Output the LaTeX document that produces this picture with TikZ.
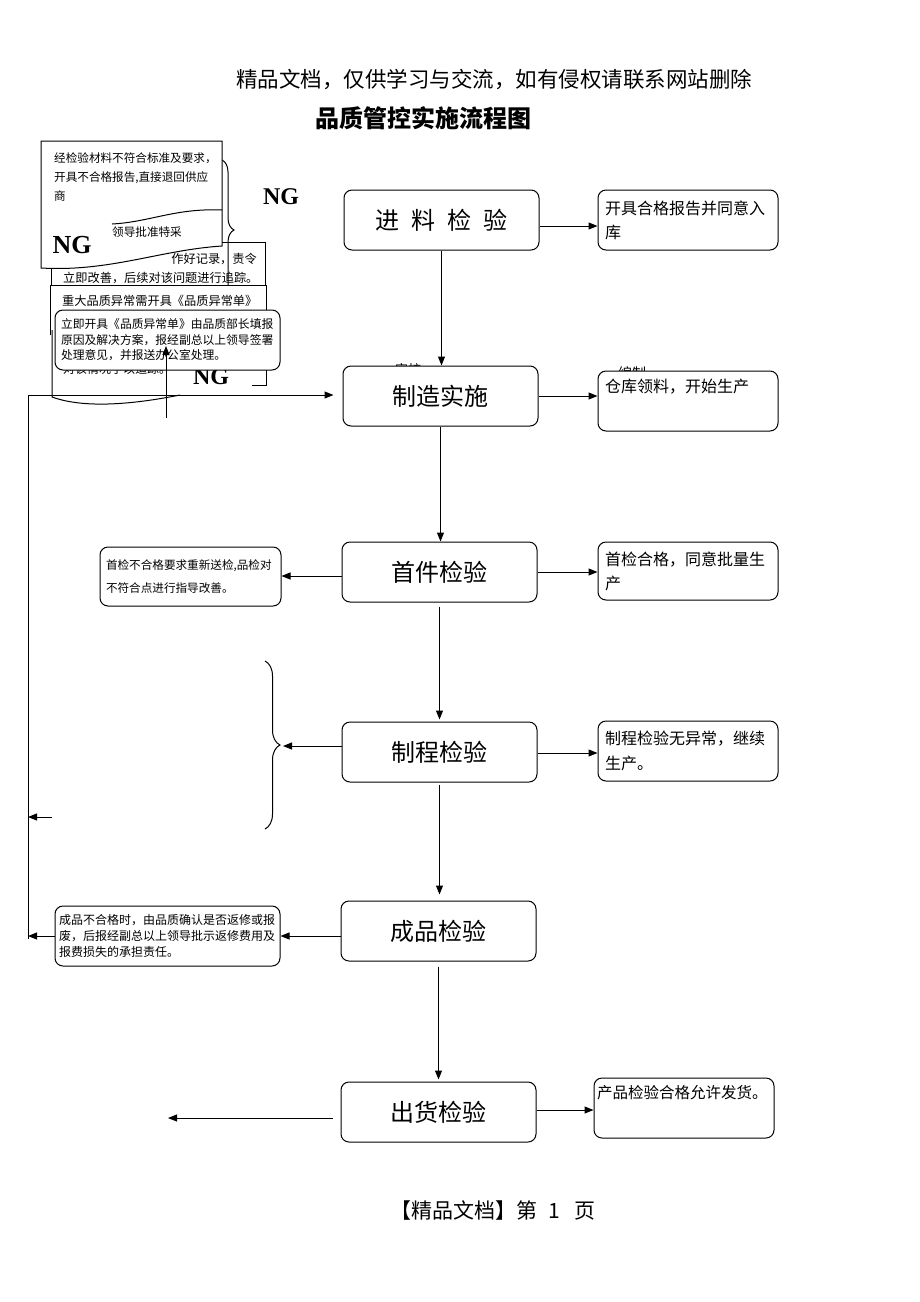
\documentclass[tikz,border=0pt]{standalone}
\usepackage{fontspec}
\setmainfont{Noto Sans CJK SC}
\newfontfamily\ngfont{Liberation Serif}
\usetikzlibrary{arrows.meta,decorations.pathreplacing,calc}
\tikzset{
  ln/.style={line width=1pt},
  arr/.style={ln, -{Triangle[length=9pt,width=7pt]}},
  mbox/.style={draw, ln, rounded corners=8pt, fill=white, minimum width=195pt, minimum height=60pt, inner sep=0pt, font=\fontsize{24}{28}\selectfont},
  rbox/.style={draw, ln, rounded corners=8pt, fill=white, minimum width=180pt, minimum height=60pt, text width=166pt, inner xsep=7pt, inner ysep=0pt, align=left, font=\fontsize{16}{24}\selectfont},
  ng/.style={inner sep=0pt, font=\ngfont\bfseries\fontsize{24}{24}\selectfont},
  txt/.style={inner sep=0pt, align=left},
}
\begin{document}
\begin{tikzpicture}[x=1pt,y=-1pt]
\useasboundingbox (0,0) rectangle (920,1302);
\fill[white] (0,0) rectangle (920,1302);

% header, title, footer
\node[txt, font=\fontsize{21.5}{22}\selectfont] (hdr) at (494,80) {精品文档，仅供学习与交流，如有侵权请联系网站删除};
\node[txt, font=\bfseries\fontsize{24}{24}\selectfont] (title) at (423,118) {品质管控实施流程图};
\node[txt, font=\fontsize{21}{21}\selectfont] (ftr) at (493,1210) {【精品文档】第\hspace{11pt}1\hspace{14pt}页};

% fragments hidden behind boxes
\node[txt, font=\fontsize{13}{13}\selectfont] (frag1) at (408,370) {审核};
\node[txt, font=\fontsize{14}{14}\selectfont] (frag2) at (632,373) {编制};

% main boxes
\node[mbox] (b1) at (441.5,220) {进\hspace{12pt}料\hspace{12pt}检\hspace{12pt}验};
\node[mbox] (b2) at (440.5,396) {制造实施};
\node[mbox] (b3) at (439.5,572) {首件检验};
\node[mbox] (b4) at (439.5,752) {制程检验};
\node[mbox] (b5) at (438.5,931) {成品检验};
\node[mbox] (b6) at (438.5,1112) {出货检验};

% right boxes
\node[rbox] (r1) at (688,220) {开具合格报告并同意入\\库};
\node[rbox] (r2) at (688,401) {仓库领料，开始生产\\\strut};
\node[rbox, minimum height=58pt] (r3) at (688,571) {首检合格，同意批量生\\产};
\node[rbox, font=\fontsize{16}{25}\selectfont] (r4) at (688,751) {制程检验无异常，继续\\生产。};
\node[rbox, text width=174pt, inner xsep=3pt, font=\fontsize{15.5}{24}\selectfont] (r5) at (684,1108) {产品检验合格允许发货。\\\strut};

% left boxes
\node[rbox, minimum width=181pt, minimum height=59pt, text width=169pt, inner xsep=6pt, font=\fontsize{11.6}{23}\selectfont] (l3) at (190.5,576.5) {首检不合格要求重新送检,品检对\\不符合点进行指导改善。};
\node[rbox, minimum width=225pt, text width=217pt, inner xsep=4pt, font=\fontsize{12}{16}\selectfont] (l5) at (167.5,936) {成品不合格时，由品质确认是否返修或报\\废，后报经副总以上领导批示返修费用及\\报费损失的承担责任。};

% vertical flow
\draw[arr] (b1.south) -- (b1.south |- b2.north);
\draw[arr] (b2.south) -- (b2.south |- b3.north);
\draw[arr] ([yshift=-4pt]b3.south) -- ([yshift=2pt]b3.south |- b4.north);
\draw[arr] ([yshift=-2pt]b4.south) -- ([yshift=6pt]b4.south |- b5.north);
\draw[arr] ([yshift=-5pt]b5.south) -- ([yshift=2pt]b5.south |- b6.north);

% right arrows
\draw[arr] ([yshift=-6pt]b1.east) -- ([yshift=-6pt]b1.east -| r1.west);
\draw[arr] (b2.east) -- (b2.east -| r2.west);
\draw[arr] (b3.east) -- (b3.east -| r3.west);
\draw[arr] ([yshift=-1pt]b4.east) -- ([yshift=-1pt]b4.east -| r4.west);
\draw[arr] ([yshift=2pt]b6.east) -- ([yshift=2pt]b6.east -| r5.west);

% left arrows
\draw[arr] ([yshift=-4pt]b3.west) -- ([yshift=-4pt]b3.west -| l3.east);
\draw[ln, decorate, decoration={brace, amplitude=15pt}] (265,661) -- (265,829);
\coordinate (bt) at (283,746);
\draw[arr] ([yshift=6pt]b4.west) -- (bt);
\draw[arr] ([yshift=-5pt]b5.west) -- ([yshift=-5pt]b5.west -| l5.east);
\coordinate (bo) at (168,1118);
\draw[arr] ($(b6.west)+(-8,6)$) -- (bo);

% left return line
\coordinate (lt) at (28,395);
\coordinate (lb) at (28,939);
\draw[ln] (lt) -- (lb);
\draw[arr] (l5.west) -- (l5.west -| lb);
\coordinate (m1) at (52,817);
\draw[arr] (m1) -- (m1 -| lb);

% ---- top-left cluster ----
% box B
\fill[white] (51,242) rectangle (265,285);
\draw[ln] (51,285) -- (51,242) -- (265,242) -- (265,285);
\node[txt, anchor=east, font=\fontsize{12.2}{12}\selectfont] (bt1) at (257,259) {作好记录，责令};
\node[txt, anchor=west, font=\fontsize{12.2}{12}\selectfont] (bt2) at (63,278) {立即改善，后续对该问题进行追踪。};
% brace
\draw[ln, decorate, decoration={brace, amplitude=12pt}] (222,160) -- (222,300);
% box C
\fill[white] (50,285.5) rectangle (266,385);
\draw[ln] (50,335) -- (50,285) -- (266,285) -- (266,385) -- (252,385);
\node[txt, anchor=west, font=\fontsize{12.2}{12}\selectfont] (ct) at (62,301) {重大品质异常需开具《品质异常单》};
\node[txt, anchor=west, font=\fontsize{12}{12}\selectfont] (et) at (63,369) {对该情况予以追踪。};
\draw[ln] (52,330) -- (52,397) .. controls (85,409) and (135,404) .. (180,395);
\node[ng] (ng3) at (211,377) {NG};
% return arrow into b2
\draw[arr] (lt) -- ($(lt -| b2.west)+(-9,0)$);
% box A (document shape)
\filldraw[ln, fill=white] (41,141) -- (222,141) -- (222,246) .. controls (160,250) and (110,272) .. (41,268) -- cycle;
\node[txt, anchor=north west, font=\fontsize{11.6}{19}\selectfont] (at) at (54,152) {经检验材料不符合标准及要求，\\开具不合格报告,直接退回供应\\商};
\draw[ln] (112,224) .. controls (150,222) and (175,208) .. (222,210);
\node[txt, anchor=west, font=\fontsize{11.6}{12}\selectfont] (lt2) at (112,232) {领导批准特采};
\node[ng, font=\ngfont\bfseries\fontsize{26}{26}\selectfont] (ng2) at (72,245) {NG};
\node[ng] (ng1) at (281,197) {NG};
% box D
\node[draw, ln, rounded corners=8pt, fill=white, minimum width=225pt, minimum height=60pt, text width=213pt, inner xsep=6pt, inner ysep=0pt, align=left, font=\fontsize{11.8}{15.5}\selectfont] (d) at (167.5,340) {立即开具《品质异常单》由品质部长填报\\原因及解决方案，报经副总以上领导签署\\处理意见，并报送办公室处理。};
% up arrow
\coordinate (u1) at (166,418);
\coordinate (u2) at (166,346);
\draw[arr] (u1) -- (u2);
\end{tikzpicture}
\end{document}
